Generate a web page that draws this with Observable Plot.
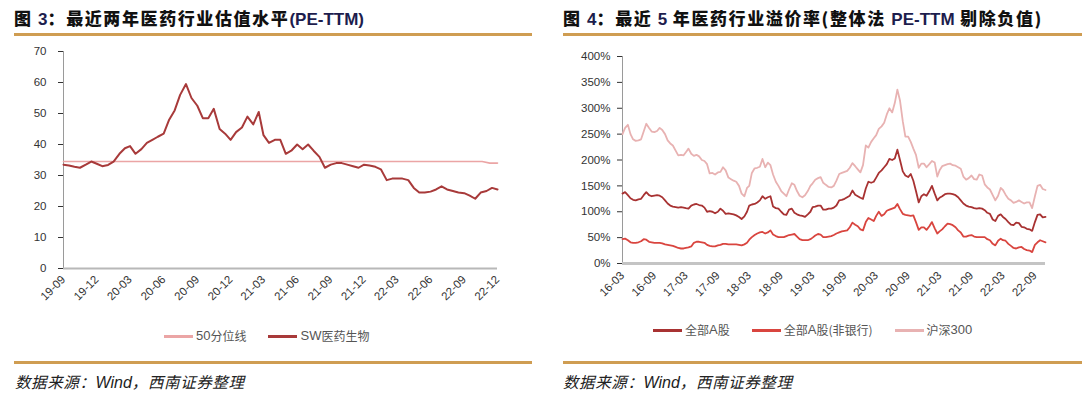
<!DOCTYPE html>
<html><head><meta charset="utf-8">
<script src="https://cdn.jsdelivr.net/npm/d3@7"></script>
<script src="https://cdn.jsdelivr.net/npm/@observablehq/plot@0.6"></script>
<style>
body{margin:0;width:1082px;height:397px;background:#fff;position:relative;overflow:hidden;font-family:"Liberation Sans",Arial,"Noto Sans CJK SC",sans-serif;}
.abs{position:absolute}
.title{font-family:"Noto Sans CJK SC",sans-serif;font-weight:900;font-size:17px;line-height:22px;color:#111;letter-spacing:1.6px;white-space:nowrap}
.title .n{font-family:"Liberation Sans",Arial,sans-serif;font-weight:700;color:#1d1d4d;letter-spacing:0;font-size:17px}
.rule{height:3px;background:#CF9D52}
.src{font-family:"Noto Sans CJK SC",sans-serif;font-style:italic;font-size:15.5px;line-height:20px;color:#222;white-space:nowrap;letter-spacing:0.6px}
.src .w{font-family:"Liberation Sans",Arial,sans-serif;font-size:16px;letter-spacing:0}
.leg{font-family:"Noto Sans CJK SC",sans-serif;font-size:12px;line-height:16px;color:#555;white-space:nowrap;display:flex;align-items:center}
.leg .sw{display:inline-block;width:29px;height:3px;margin-right:3px}
.leg .it{display:flex;align-items:center;margin-right:22px}
.leg .lat{font-family:"Liberation Sans",Arial,sans-serif;font-size:13px}
</style></head>
<body>
<div class="abs title" style="left:14px;top:7px">图 <span class="n">3</span>：最近两年医药行业估值水平<span class="n">(PE-TTM)</span></div>
<div class="abs rule" style="left:14px;top:33px;width:518px"></div>
<div class="abs title" style="left:563px;top:7px">图 <span class="n">4</span>：最近 <span class="n">5</span> 年医药行业溢价率(整体法 <span class="n">PE-TTM</span> 剔除负值)</div>
<div class="abs rule" style="left:563px;top:33px;width:519px"></div>
<div id="left" class="abs" style="left:0;top:40px"></div>
<div id="right" class="abs" style="left:541px;top:40px"></div>
<div class="abs leg" style="left:164px;top:328px">
  <span class="it"><span class="sw" style="background:#EBA5A5"></span><span class="lat">50</span>分位线</span>
  <span class="it"><span class="sw" style="background:#A83A3A"></span><span class="lat">SW</span>医药生物</span>
</div>
<div class="abs leg" style="left:653px;top:322px">
  <span class="it"><span class="sw" style="background:#A83232"></span>全部<span class="lat">A</span>股</span>
  <span class="it"><span class="sw" style="background:#D9453F"></span>全部<span class="lat">A</span>股(非银行)</span>
  <span class="it"><span class="sw" style="background:#E8B2B2"></span>沪深<span class="lat">300</span></span>
</div>
<div class="abs rule" style="left:14px;top:361px;width:518px"></div>
<div class="abs rule" style="left:563px;top:361px;width:519px"></div>
<div class="abs src" style="left:15px;top:371px">数据来源：<span class="w">Wind</span>，西南证券整理</div>
<div class="abs src" style="left:563px;top:371px">数据来源：<span class="w">Wind</span>，西南证券整理</div>
<script>
// ---- Left panel: SW医药生物 PE-TTM, semi-monthly from 2019-09 ----
const leftStart = [2019, 8]; // year, month index (Sept)
const swPE = [
  33.5,33.2,32.8,32.5,33.5,34.5,33.8,33,33.4,34.5,
  37,38.8,39.5,37,38.5,40.5,41.5,42.5,43.5,48,
  51,56,59.5,55,52.5,48.5,48.5,51.5,45,43.5,
  41.5,44,45.5,49,46.5,50.5,43,40.5,41.5,41.5,
  37,38,40,38.5,40,38,36,32.5,33.5,34,
  34,33.5,33,32.5,33.5,33.2,32.8,32,28.5,29,
  29,29,28.5,26,24.5,24.5,24.8,25.5,26.5,25.5,
  25,24.5,24.3,23.5,22.5,24.5,25,26,25.5
];
const p50Dates = ["2019-09-01","2022-10-20","2022-11-10","2022-12-01"];
const p50Values = [34.5,34.5,34.0,34.0];
const leftTickLabels = ["2019-09","2019-12","2020-03","2020-06","2020-09","2020-12","2021-03","2021-06","2021-09","2021-12","2022-03","2022-06","2022-09","2022-12"];
const leftYTicks = [0,10,20,30,40,50,60,70];

// ---- Right panel: premium rates, semi-monthly from 2016-03 ----
const rightStart = [2016, 2];
const allA = [
  135,138,132,126,123,122,124,125,132,138,
  132,130,131,132,131,128,122,116,112,110,
  109,108,109,108,107,106,112,114,115,113,
  112,108,100,101,100,97,100,106,102,96,
  97,96,95,93,90,86,91,100,112,114,
  115,118,122,130,125,128,130,110,107,106,
  100,95,94,104,106,98,95,93,92,90,
  95,100,109,110,112,112,104,104,106,106,
  108,112,122,123,125,128,131,141,133,130,
  127,125,145,158,156,158,166,175,180,186,
  192,202,200,203,220,200,178,170,167,173,
  160,140,118,130,134,131,140,150,135,122,
  127,130,134,135,135,134,132,128,122,116,
  112,110,109,107,106,107,106,103,98,96,
  85,82,92,95,90,86,80,75,74,79,
  78,71,70,67,66,63,80,94,95,89,
  90
];
const allAexBank = [
  47,48,45,41,40,40,41,43,47,46,
  42,41,40,40,40,39,37,36,35,34,
  32,30,29,29,30,31,33,40,42,42,
  41,40,36,34,33,33,35,36,38,38,
  37,37,37,37,36,35,37,40,46,51,
  55,58,60,61,58,60,64,56,53,51,
  51,51,53,55,56,57,52,47,45,45,
  45,47,50,54,57,56,51,51,52,53,
  55,58,60,62,63,64,70,79,75,72,
  66,64,80,88,85,82,92,100,92,95,
  102,104,106,108,115,105,96,94,93,92,
  93,80,65,70,70,65,72,80,68,58,
  62,66,72,77,76,74,70,64,60,52,
  52,54,55,52,51,51,51,51,47,45,
  38,35,44,48,45,44,38,34,30,29,
  31,32,28,26,25,22,36,41,45,43,
  41
];
const hs300 = [
  250,262,268,250,240,237,238,240,255,270,
  262,255,254,256,262,258,250,238,232,228,
  218,209,210,209,215,222,212,208,210,207,
  200,198,192,174,175,172,176,177,186,180,
  166,163,160,158,150,135,130,146,150,175,
  184,185,187,202,186,195,190,172,158,150,
  140,135,130,143,155,152,140,131,128,132,
  140,150,155,162,165,167,156,152,148,147,
  150,160,173,175,177,179,185,194,188,182,
  176,190,228,224,235,242,248,260,265,272,
  288,300,292,310,336,315,275,245,245,235,
  222,210,185,193,193,186,192,198,195,168,
  180,188,190,192,193,190,189,186,183,168,
  162,165,170,163,162,172,170,153,147,143,
  132,122,131,146,142,133,125,122,117,119,
  122,119,116,118,118,107,130,150,152,144,
  142
];
const rightTickLabels = ["2016-03","2016-09","2017-03","2017-09","2018-03","2018-09","2019-03","2019-09","2020-03","2020-09","2021-03","2021-09","2022-03","2022-09"];
const rightYTicks = [0,50,100,150,200,250,300,350,400];

// semi-monthly date for index i (1st and 16th of each month)
const semi = (start, i) => new Date(Date.UTC(start[0], start[1] + Math.floor(i / 2), i % 2 ? 16 : 1));
const pd = s => new Date(s + (s.length === 7 ? "-01" : "") + "T00:00:00Z");

const leftData = swPE.map((v, i) => ({date: semi(leftStart, i), v}));
const p50Data = p50Dates.map((d, i) => ({date: pd(d), v: p50Values[i]}));
const fmt = d3.utcFormat("%y-%m");
const axisFont = {fontFamily: "'Liberation Sans', Arial, sans-serif", fontSize: "11.5px", color: "#333", background: "transparent", overflow: "visible"};

const leftX0 = leftData[0].date, leftX1 = leftData[leftData.length - 1].date;
const left = Plot.plot({
  width: 540, height: 275,
  marginLeft: 63, marginRight: 43, marginTop: 11, marginBottom: 47,
  style: axisFont,
  x: {type: "utc", domain: [leftX0, leftX1], ticks: leftTickLabels.map(pd), tickFormat: fmt, tickRotate: -45, tickSize: 0, tickPadding: 9, label: null},
  y: {domain: [0, 70], ticks: leftYTicks, tickSize: 5, tickPadding: 12, label: null},
  marks: [
    Plot.ruleX([leftX0], {y1: 0, y2: 70, stroke: "#9a9a9a"}),
    Plot.ruleY([0], {stroke: "#b8b8b8", strokeWidth: 2}),
    Plot.line(p50Data, {x: "date", y: "v", stroke: "#EBA5A5", strokeWidth: 1.6}),
    Plot.line(leftData, {x: "date", y: "v", stroke: "#A83A3A", strokeWidth: 2, curve: "linear"})
  ]
});
document.getElementById("left").appendChild(left);

const series = [
  {name: "沪深300", vals: hs300, color: "#E8B2B2"},
  {name: "全部A股(非银行)", vals: allAexBank, color: "#D9453F"},
  {name: "全部A股", vals: allA, color: "#A83232"}
];
const rightX0 = semi(rightStart, 0), rightX1 = semi(rightStart, hs300.length - 1);
const right = Plot.plot({
  width: 541, height: 265,
  marginLeft: 81, marginRight: 37, marginTop: 16, marginBottom: 42,
  style: axisFont,
  x: {type: "utc", domain: [rightX0, rightX1], ticks: rightTickLabels.map(pd), tickFormat: fmt, tickRotate: -45, tickSize: 0, tickPadding: 10, label: null},
  y: {domain: [0, 400], ticks: rightYTicks, tickFormat: d => d + "%", tickSize: 5, tickPadding: 7, label: null},
  marks: [
    Plot.ruleX([rightX0], {y1: 0, y2: 400, stroke: "#9a9a9a"}),
    Plot.ruleY([0], {stroke: "#c4c4c4", strokeWidth: 3}),
    ...series.map(s => Plot.line(s.vals.map((v, i) => ({date: semi(rightStart, i), v})), {x: "date", y: "v", stroke: s.color, strokeWidth: 1.8}))
  ]
});
document.getElementById("right").appendChild(right);
</script>
</body></html>
